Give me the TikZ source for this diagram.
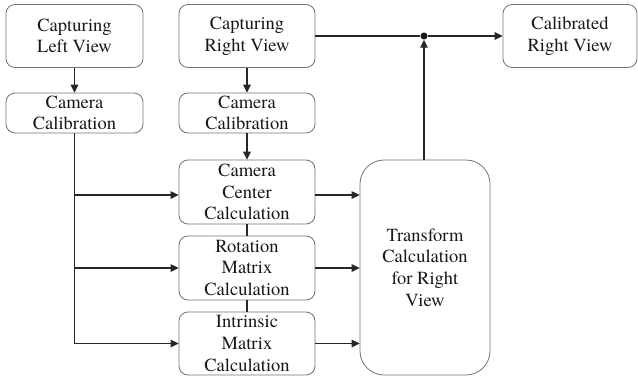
\documentclass[tikz,border=0pt]{standalone}
\usepackage{fontspec}
\setmainfont{TeX Gyre Termes}
\usetikzlibrary{arrows.meta}
\begin{document}
\begin{tikzpicture}[x=1pt,y=-1pt,
  box/.style={draw=black!55, line width=0.8pt, rounded corners=9pt, align=center, inner sep=0pt,
    font=\rmfamily\fontsize{18.5}{21.7}\selectfont, text=black!90},
  conn/.style={line width=1.4pt, draw=black!85},
  arr/.style={conn, -{Triangle[length=8pt,width=7.5pt]}}]
\useasboundingbox (0,0) rectangle (638,381);
\node[box, minimum width=137pt, minimum height=63pt] (clv) at (74.5,36) {Capturing\\Left View};
\node[box, minimum width=137pt, minimum height=40pt] (cc1) at (74.5,113) {Camera\\Calibration};
\node[box, minimum width=136pt, minimum height=63pt] (crv) at (247,36) {Capturing\\Right View};
\node[box, minimum width=136pt, minimum height=40pt] (cc2) at (247,113) {Camera\\Calibration};
\node[box, minimum width=136pt, minimum height=64pt] (ccc) at (247,192) {Camera\\Center\\Calculation};
\node[box, minimum width=136pt, minimum height=64pt] (rmc) at (247,268) {Rotation\\Matrix\\Calculation};
\node[box, minimum width=136pt, minimum height=63pt] (imc) at (247,343.5) {Intrinsic\\Matrix\\Calculation};
\node[box, rounded corners=24pt, minimum width=130pt, minimum height=215pt] (tr) at (425,267.5) {Transform\\Calculation\\for Right\\View};
\node[box, minimum width=134pt, minimum height=63pt] (cal) at (570,36) {Calibrated\\Right View};
\node[circle, fill=black!90, inner sep=0pt, minimum size=7pt] (dot) at (424,36) {};

\draw[arr] (clv.south) -- (cc1.north);
\draw[arr] (crv.south) -- (cc2.north);
\draw[arr] (cc2.south) -- (ccc.north);
\draw[conn] (ccc.south) -- (rmc.north);
\draw[conn] (rmc.south) -- (imc.north);
\draw[arr] (cc1.south) |- (imc.west);
\draw[arr] (cc1.south |- ccc.west) ++(0,3) -- ([yshift=-3pt]ccc.west);
\draw[arr] (cc1.south |- rmc.west) -- (rmc.west);
\draw[arr] ([yshift=-3pt]ccc.east) -- ([yshift=-3pt]ccc.east -| tr.west);
\draw[arr] (rmc.east) -- (rmc.east -| tr.west);
\draw[arr] (imc.east) -- (imc.east -| tr.west);
\draw[conn] (crv.east) -- (dot);
\draw[arr] (dot) -- (cal.west);
\draw[arr] (tr.north -| dot) -- (dot.south);
\end{tikzpicture}
\end{document}
